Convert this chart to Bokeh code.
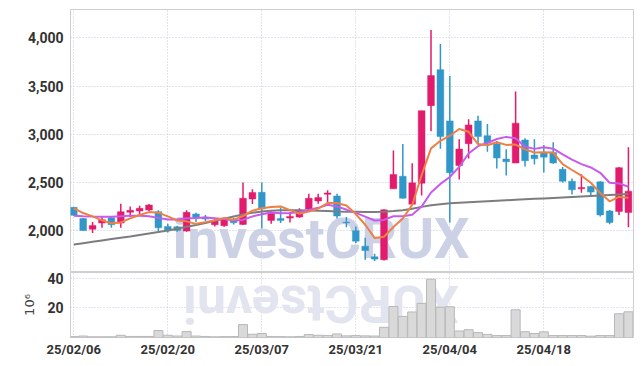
import math
from bokeh.plotting import figure
from bokeh.layouts import column
from bokeh.models import FixedTicker, Range1d, NumeralTickFormatter, ColumnDataSource
from bokeh.embed import file_html
from bokeh.resources import INLINE
from bokeh.core.properties import value

dates = ["25/02/06", "25/02/07", "25/02/10", "25/02/11", "25/02/12", "25/02/13", "25/02/14", "25/02/17", "25/02/18", "25/02/19",
         "25/02/20", "25/02/21", "25/02/24", "25/02/25", "25/02/26", "25/02/27", "25/02/28", "25/03/04", "25/03/05", "25/03/06",
         "25/03/07", "25/03/10", "25/03/11", "25/03/12", "25/03/13", "25/03/14", "25/03/17", "25/03/18", "25/03/19", "25/03/20",
         "25/03/21", "25/03/24", "25/03/25", "25/03/26", "25/03/27", "25/03/28", "25/03/31", "25/04/01", "25/04/02", "25/04/03",
         "25/04/04", "25/04/07", "25/04/08", "25/04/09", "25/04/10", "25/04/11", "25/04/14", "25/04/15", "25/04/16", "25/04/17",
         "25/04/18", "25/04/21", "25/04/22", "25/04/23", "25/04/24", "25/04/25", "25/04/28", "25/04/29", "25/04/30", "25/05/02"]

opens = [2243, 2128, 2017, 2080, 2135, 2080, 2191, 2205, 2215, 2198,
         2045, 2042, 1997, 2174, 2142, 2062, 2052, 2122, 2066, 2330,
         2399, 2108, 2128, 2132, 2142, 2226, 2309, 2378, 2361, 2090,
         2000, 1841, 1731, 1700, 2435, 2566, 2276, 2493, 3297, 3670,
         3139, 2677, 2903, 3139, 2986, 2900, 2743, 2702, 2941, 2785,
         2811, 2811, 2637, 2514, 2435, 2459, 2507, 2206, 2199, 2189]
highs = [2246, 2132, 2090, 2142, 2142, 2281, 2253, 2260, 2278, 2212,
         2073, 2052, 2212, 2188, 2163, 2122, 2128, 2135, 2500, 2430,
         2500, 2212, 2240, 2191, 2233, 2385, 2385, 2420, 2385, 2142,
         2045, 1928, 1762, 2224, 2831, 2900, 2700, 3245, 4080, 3935,
         3604, 2948, 3156, 3191, 3107, 2931, 2844, 3444, 2958, 2948,
         2890, 2917, 2661, 2541, 2586, 2466, 2514, 2216, 2661, 2866]
lows = [2153, 2000, 1976, 2031, 2031, 2031, 2142, 2167, 2205, 1983,
        1983, 1990, 1990, 2090, 2101, 2045, 2042, 2066, 2059, 2278,
        2024, 2073, 2080, 2087, 2135, 2195, 2281, 2281, 2128, 2038,
        1872, 1700, 1686, 1693, 2435, 2331, 2276, 2366, 3032, 2849,
        2086, 2531, 2750, 2896, 2820, 2646, 2573, 2702, 2667, 2688,
        2603, 2695, 2500, 2377, 2394, 2353, 2148, 2069, 2165, 2038]
closes = [2160, 2003, 2056, 2115, 2062, 2198, 2212, 2233, 2267, 2031,
          2000, 2003, 2191, 2135, 2122, 2101, 2122, 2083, 2337, 2396,
          2226, 2191, 2108, 2149, 2212, 2337, 2344, 2392, 2153, 2083,
          1893, 1796, 1707, 2217, 2583, 2338, 2497, 3245, 3608, 2976,
          2601, 2847, 3097, 2976, 2910, 2754, 2715, 3115, 2726, 2747,
          2763, 2702, 2514, 2425, 2449, 2401, 2165, 2086, 2654, 2411]
volumes = [0.6, 1.0, 0.5, 0.5, 0.5, 1.5, 0.7, 0.7, 0.7, 4.7,
           1.5, 1.0, 4.0, 1.0, 0.7, 0.5, 0.6, 0.6, 8.7, 2.2,
           2.7, 0.7, 0.6, 0.5, 0.7, 2.0, 1.5, 1.4, 2.4, 1.1,
           1.3, 1.1, 1.0, 6.9, 20.9, 14.2, 17.2, 23.0, 39.3, 20.4,
           20.7, 4.4, 5.3, 3.3, 2.1, 1.3, 1.3, 18.7, 3.9, 2.7,
           3.8, 1.3, 1.3, 1.3, 1.3, 0.9, 1.3, 1.3, 16.0, 17.3]
ma5 = [2233, 2184, 2149, 2108, 2079, 2087, 2129, 2164, 2194, 2188,
       2149, 2107, 2098, 2072, 2090, 2110, 2134, 2113, 2153, 2208,
       2233, 2247, 2252, 2214, 2177, 2199, 2230, 2287, 2288, 2262,
       2173, 2063, 1926, 1939, 2039, 2128, 2268, 2576, 2854, 2933,
       2985, 3055, 3026, 2899, 2886, 2917, 2890, 2894, 2844, 2811,
       2813, 2811, 2690, 2630, 2571, 2498, 2391, 2305, 2351, 2343]
ma10 = [2155, 2150, 2147, 2145, 2146, 2150, 2155, 2155, 2150, 2134,
        2118, 2118, 2131, 2133, 2139, 2130, 2121, 2106, 2113, 2149,
        2172, 2190, 2182, 2184, 2193, 2216, 2238, 2269, 2251, 2220,
        2186, 2147, 2107, 2113, 2151, 2151, 2166, 2251, 2397, 2486,
        2557, 2662, 2801, 2877, 2910, 2951, 2973, 2960, 2872, 2849,
        2865, 2851, 2792, 2737, 2691, 2656, 2601, 2498, 2491, 2457]
ma_long = [1858, 1872, 1886, 1900, 1914, 1928, 1942, 1957, 1972, 1987,
           2003, 2022, 2041, 2060, 2080, 2105, 2125, 2148, 2168, 2186,
           2200, 2208, 2212, 2213, 2212, 2210, 2207, 2204, 2200, 2198,
           2197, 2196, 2196, 2198, 2204, 2212, 2228, 2248, 2265, 2276,
           2285, 2291, 2296, 2301, 2306, 2311, 2316, 2321, 2326, 2331,
           2336, 2341, 2346, 2351, 2356, 2361, 2366, 2371, 2376, 2381]
price_ticks = [2000, 2500, 3000, 3500, 4000]
volume_ticks = [20, 40]
tick_dates = ["25/02/06", "25/02/20", "25/03/07", "25/03/21", "25/04/04", "25/04/18"]
watermark = "investCRUX"

PINK = "#e31b6d"
BLUE = "#3197c9"
GRID = "#c3c8dc"
FONT = "Roboto"

idx = list(range(len(dates)))
up = [c >= o for o, c in zip(opens, closes)]
colors = [PINK if u else BLUE for u in up]
src = ColumnDataSource(dict(x=idx, o=opens, h=highs, l=lows, c=closes,
                            top=[max(o, c) for o, c in zip(opens, closes)],
                            bot=[min(o, c) for o, c in zip(opens, closes)],
                            col=colors, vol=volumes))
date_ticks = [dates.index(d) for d in tick_dates]
xr = Range1d(-0.35, 59.54)


def style_axis(a, size):
    a.axis_line_color = None
    a.major_tick_line_color = None
    a.minor_tick_line_color = None
    a.major_tick_out = 0
    a.major_tick_in = 0
    a.minor_tick_out = 0
    a.minor_tick_in = 0
    a.major_label_text_font = FONT
    a.major_label_text_font_style = "bold"
    a.major_label_text_font_size = size
    a.major_label_text_color = "#333333"


def style_grid(fig):
    for g in (fig.xgrid, fig.ygrid):
        g.grid_line_color = GRID
        g.grid_line_dash = "1 2"
        g.grid_line_width = 1


p = figure(frame_width=563, frame_height=263, x_range=xr, y_range=Range1d(1568, 4293),
           output_backend="svg", toolbar_location=None, x_axis_location=None,
           min_border_left=70, min_border_right=10, min_border_top=9, min_border_bottom=0)
p.outline_line_color = "#cfcfcf"
p.xgrid.ticker = FixedTicker(ticks=date_ticks)
p.yaxis.ticker = FixedTicker(ticks=price_ticks)
p.yaxis.formatter = NumeralTickFormatter(format="0,0")
style_grid(p)
style_axis(p.yaxis[0], "14px")
p.yaxis.major_label_standoff = 7

# watermark
p.text(x=[26.3], y=[1573], text=[watermark], text_font=value(FONT), text_font_style="bold",
       text_font_size="56px", text_color="#ccd1e5", text_align="center", text_baseline="bottom")

p.segment(x0="x", y0="l", x1="x", y1="h", color="col", line_width=1.5, source=src)
p.vbar(x="x", top="top", bottom="bot", width=0.72, fill_color="col", line_color="col",
       line_alpha=0.45, line_width=1, source=src)
p.line(idx, ma_long, color="#7d7d7d", line_width=2)
p.line(idx, ma10, color="#c95aee", line_width=2)
p.line(idx, ma5, color="#ee8045", line_width=2)

v = figure(frame_width=563, frame_height=65, x_range=xr, y_range=Range1d(0, 43.8),
           output_backend="svg", toolbar_location=None,
           min_border_left=70, min_border_right=10, min_border_top=0, min_border_bottom=0)
v.outline_line_color = "#cfcfcf"
v.xgrid.ticker = FixedTicker(ticks=date_ticks)
v.xaxis.ticker = FixedTicker(ticks=date_ticks)
v.xaxis.major_label_overrides = {i: dates[i] for i in date_ticks}
v.yaxis.ticker = FixedTicker(ticks=volume_ticks)
style_grid(v)
style_axis(v.xaxis[0], "13px")
style_axis(v.yaxis[0], "14px")
v.yaxis.major_label_standoff = 7
v.xaxis.major_label_standoff = 4
v.yaxis.axis_label = "10⁶"
v.yaxis.axis_label_text_font = "DejaVu Sans"
v.yaxis.axis_label_text_font_style = "normal"
v.yaxis.axis_label_text_font_size = "13px"
v.yaxis.axis_label_text_color = "#444444"
v.yaxis.axis_label_standoff = 7

# mirrored watermark (approximated by a half-turn of the reversed word)
v.text(x=[26.3], y=[43.4], text=[watermark[::-1]], text_font=value(FONT), text_font_style="bold",
       text_font_size="52px", text_color="#e2e5ef", text_align="center", text_baseline="bottom",
       angle=math.pi)
v.vbar(x="x", top="vol", width=0.96, fill_color="#d9d9d9", line_color="#b8b8b8", line_width=1, source=src)

layout = column(p, v, spacing=0)
open("out.html", "w").write(file_html(layout, INLINE))
